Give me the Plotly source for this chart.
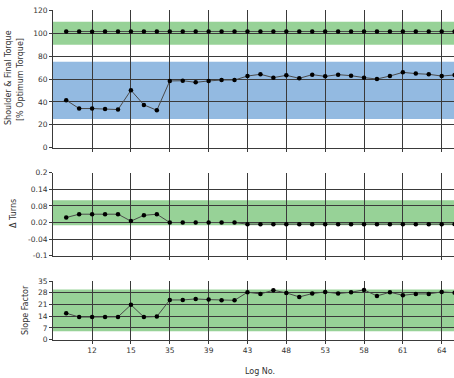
import plotly.graph_objects as go

# ---- data ----
log_no = [10, 11, 12, 13, 14, 15, 33, 34, 35, 37, 38, 39, 41, 42, 43, 45, 46, 48,
          50, 51, 53, 55, 56, 58, 59, 60, 61, 62, 63, 64, 65]
final_torque = [101.5, 101.5, 101.2, 101.5, 101.5, 101.5, 101.5, 101.5, 101.5, 101.5,
                101.5, 101.5, 101.5, 101.5, 101.5, 101.5, 101.5, 101.5, 101.5, 101.5,
                101.5, 101.5, 101.5, 101.5, 101.5, 101.5, 101.5, 101.5, 101.5, 101.5, 101.5]
shoulder_torque = [41.5, 34.2, 34.2, 33.9, 33.3, 50.2, 37.4, 32.7, 58.3, 58.5,
                   57.1, 58.3, 59.1, 59.1, 62.6, 64.1, 61.2, 63.2, 60.6, 63.8,
                   62.3, 63.8, 62.9, 61.2, 60.0, 62.6, 65.8, 64.7, 64.1, 62.6, 63.5]
delta_turns = [0.038, 0.05, 0.05, 0.05, 0.05, 0.025, 0.046, 0.05, 0.02, 0.02,
               0.02, 0.02, 0.02, 0.02, 0.014, 0.014, 0.014, 0.014, 0.014, 0.014,
               0.014, 0.014, 0.014, 0.014, 0.014, 0.014, 0.014, 0.014, 0.014, 0.014, 0.014]
slope_factor = [15.8, 13.5, 13.5, 13.5, 13.6, 20.8, 13.5, 13.8, 23.7, 23.7,
                24.3, 23.9, 23.5, 23.5, 28.3, 27.3, 29.5, 27.9, 25.5, 27.5,
                28.5, 27.5, 28.3, 29.7, 26.1, 28.3, 26.5, 27.3, 27.3, 28.5, 28.0]

final_band = [90, 110]
shoulder_band = [25, 75]
turns_band = [0.01, 0.1]
slope_band = [5, 30]

torque_ticks = [0, 20, 40, 60, 80, 100, 120]
turns_ticks = [-0.1, -0.04, 0.02, 0.08, 0.14, 0.2]
slope_ticks = [0, 7, 14, 21, 28, 35]

idx = list(range(len(log_no)))
xtick_idx = idx[2::3]
xtick_text = [str(log_no[i]) for i in xtick_idx]

GREEN = "rgba(140,205,140,0.9)"
BLUE = "rgba(135,178,222,0.9)"
GRID = "#3a3a3a"
FONT = "DejaVu Sans"
TICK_SIZE = 7.5
TITLE_SIZE = 8

fig = go.Figure()

line_style = dict(color="#4a4a4a", width=1)
marker_style = dict(color="#000000", size=4.5)

fig.add_trace(go.Scatter(x=idx, y=final_torque, mode="lines+markers", line=line_style,
                         marker=marker_style, xaxis="x", yaxis="y", showlegend=False))
fig.add_trace(go.Scatter(x=idx, y=shoulder_torque, mode="lines+markers", line=line_style,
                         marker=marker_style, xaxis="x", yaxis="y", showlegend=False))
fig.add_trace(go.Scatter(x=idx, y=delta_turns, mode="lines+markers", line=line_style,
                         marker=marker_style, xaxis="x2", yaxis="y2", showlegend=False))
fig.add_trace(go.Scatter(x=idx, y=slope_factor, mode="lines+markers", line=line_style,
                         marker=marker_style, xaxis="x3", yaxis="y3", showlegend=False))

shapes = []
for band, yref, col in [(final_band, "y", GREEN), (shoulder_band, "y", BLUE),
                        (turns_band, "y2", GREEN), (slope_band, "y3", GREEN)]:
    xref = {"y": "x domain", "y2": "x2 domain", "y3": "x3 domain"}[yref]
    shapes.append(dict(type="rect", xref=xref, x0=0, x1=1, yref=yref, y0=band[0], y1=band[1],
                       fillcolor=col, line=dict(width=0), layer="below"))

xr = [-1.02, 29.95]
common_x = dict(range=xr, tickmode="array", tickvals=xtick_idx, ticktext=xtick_text,
                showgrid=True, gridcolor=GRID, gridwidth=1, showline=True, linecolor=GRID,
                ticks="outside", ticklen=3, tickcolor=GRID, zeroline=False,
                tickfont=dict(family=FONT, size=TICK_SIZE, color="#333"))
common_y = dict(showgrid=True, gridcolor=GRID, gridwidth=1, showline=True, linecolor=GRID,
                ticks="outside", ticklen=3, tickcolor=GRID, zeroline=False,
                tickfont=dict(family=FONT, size=TICK_SIZE, color="#333"), tickmode="array")

H = 378
t, b = 10, 38
ph = H - t - b
def dom(top_px, bot_px):
    return [max(0, (H - b - bot_px) / ph), min(1, (H - b - top_px) / ph)]

fig.update_layout(
    width=454, height=378,
    margin=dict(l=53, r=0, t=t, b=b),
    paper_bgcolor="white", plot_bgcolor="white",
    shapes=shapes,
    xaxis=dict(**common_x, anchor="y", showticklabels=False),
    xaxis2=dict(**common_x, anchor="y2", showticklabels=False, matches="x"),
    xaxis3=dict(**common_x, anchor="y3", matches="x"),
    yaxis=dict(**common_y, domain=dom(10.3, 147.7), range=[0, 120], tickvals=torque_ticks,
               anchor="x"),
    yaxis2=dict(**common_y, domain=dom(172.7, 255.7), range=[-0.1, 0.2], tickvals=turns_ticks,
                ticktext=[f"{v:g}" for v in turns_ticks], anchor="x2"),
    yaxis3=dict(**common_y, domain=dom(281, 339.7), range=[0, 35], tickvals=slope_ticks,
                anchor="x3"),
    font=dict(family=FONT, size=TICK_SIZE, color="#333"),
)

def px_annot(text, xpx, ypx, angle=0, size=TITLE_SIZE):
    return dict(text=text, xref="paper", yref="paper",
                x=(xpx - 53) / (454 - 53), y=(H - b - ypx) / ph,
                showarrow=False, textangle=angle, xanchor="center", yanchor="middle",
                font=dict(family=FONT, size=size, color="#333"))

fig.update_layout(annotations=[
    px_annot("Shoulder &amp; Final Torque", 8, 78, -90),
    px_annot("[% Optimum Torque]", 20, 80, -90),
    px_annot("Δ Turns", 13, 214, -90),
    px_annot("Slope Factor", 25, 310, -90),
    px_annot("Log No.", 260, 371.5, 0),
])

fig.write_html(
    "out.html",
    config={"displayModeBar": False},
    post_script="document.body.style.margin='0';document.body.style.padding='0';"
                "document.body.style.overflow='hidden';",
)
